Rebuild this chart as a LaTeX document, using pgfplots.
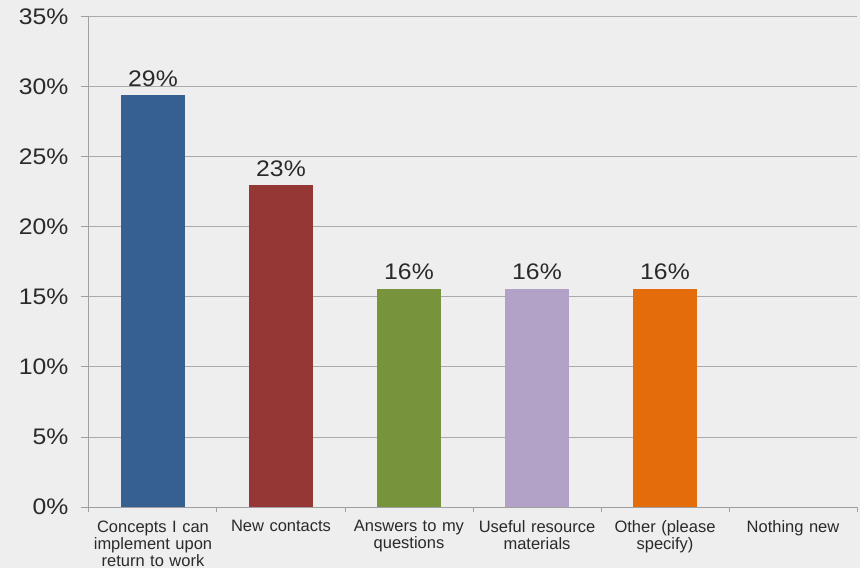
\documentclass[border=0pt]{standalone}
\usepackage{fontspec}
\setmainfont{Liberation Sans}[FakeStretch=1.1]
\newfontfamily\lblfont{Liberation Sans}
\usepackage{pgfplots}
\pgfplotsset{compat=1.18}
\definecolor{bg}{HTML}{EEEEEE}
\definecolor{gridgray}{HTML}{ABABAB}
\definecolor{axisgray}{HTML}{A0A0A0}
\definecolor{txt}{HTML}{2A2A2A}
\definecolor{c1}{HTML}{366092}
\definecolor{c2}{HTML}{953735}
\definecolor{c3}{HTML}{77933C}
\definecolor{c4}{HTML}{B3A2C7}
\definecolor{c5}{HTML}{E46C0A}
\begin{document}
\begin{tikzpicture}
\fill[bg, use as bounding box] (-89bp,-61bp) rectangle (771bp,507bp);
\begin{axis}[
  at={(0,0)}, anchor=south west,
  scale only axis, width=768bp, height=490bp,
  xmin=-0.5, xmax=5.5, ymin=0, ymax=35,
  axis lines=left,
  axis line style={-, draw=axisgray, line width=1bp},
  ybar, bar width=64bp,
  ytick={0,5,10,15,20,25,30,35},
  yticklabels={0\%,5\%,10\%,15\%,20\%,25\%,30\%,35\%},
  ymajorgrids, grid style={gridgray, line width=1bp},
  xtick={0,1,2,3,4,5},
  xticklabels={{Concepts I can\\implement upon\\return to work},{New contacts},{Answers to my\\questions},{Useful resource\\materials},{Other (please\\specify)},{Nothing new}},
  minor xtick={-0.5,0.5,1.5,2.5,3.5,4.5,5.5},
  tick align=outside, major tick length=8bp, minor tick length=5bp,
  every major x tick/.append style={draw=none},
  tick style={axisgray, line width=1bp},
  xticklabel style={text width=128bp, inner xsep=0pt, align=center, font=\lblfont\fontsize{16.5bp}{17bp}\selectfont, text=txt, yshift=-2bp},
  yticklabel style={font=\fontsize{22.5bp}{26bp}\selectfont, text=txt, xshift=-9bp},
  nodes near coords, point meta=explicit symbolic,
  nodes near coords style={font=\fontsize{22.5bp}{26bp}\selectfont, text=txt, yshift=5bp},
  clip=false,
]
\addplot[fill=c1, draw=none, bar shift=0pt] coordinates {(0,29.4) [29\%]};
\addplot[fill=c2, draw=none, bar shift=0pt] coordinates {(1,23.0) [23\%]};
\addplot[fill=c3, draw=none, bar shift=0pt] coordinates {(2,15.6) [16\%]};
\addplot[fill=c4, draw=none, bar shift=0pt] coordinates {(3,15.6) [16\%]};
\addplot[fill=c5, draw=none, bar shift=0pt] coordinates {(4,15.6) [16\%]};
\end{axis}
\end{tikzpicture}
\end{document}
